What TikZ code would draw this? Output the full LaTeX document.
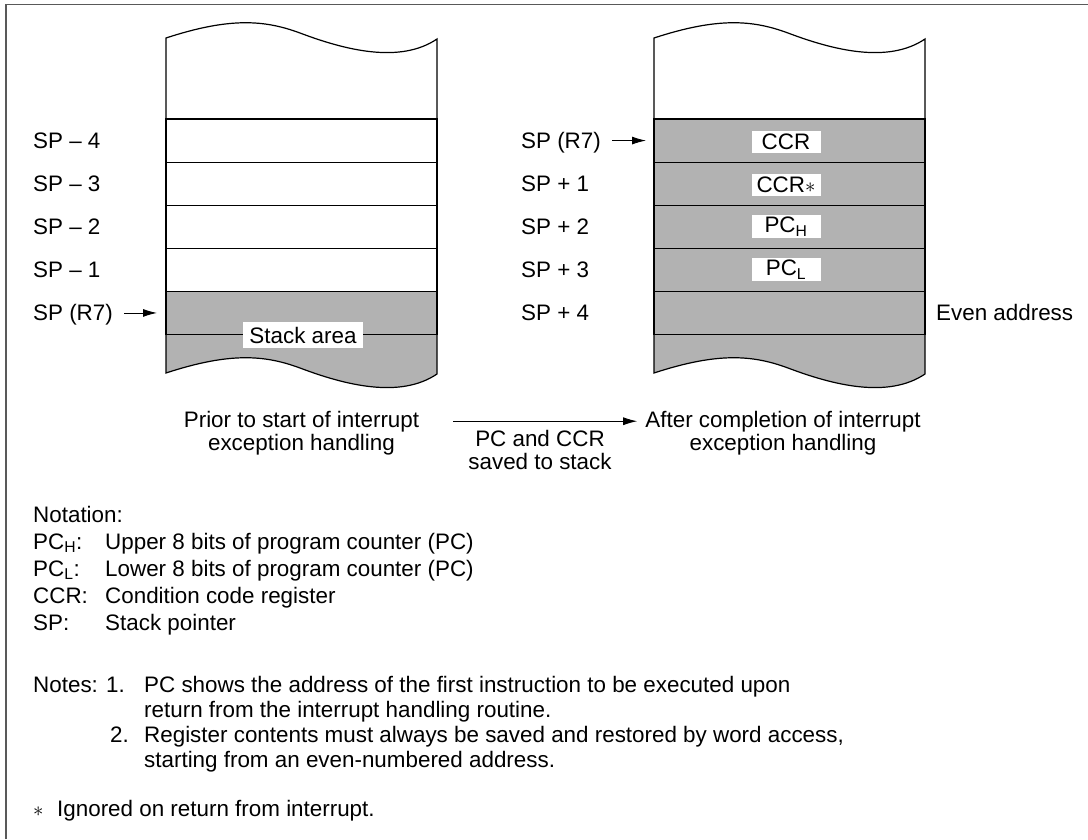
\documentclass[tikz,border=0pt]{standalone}
\usepackage{fontspec}
\setmainfont{Liberation Sans}
\usepackage{tikz}
\usetikzlibrary{arrows.meta, positioning}
\definecolor{stackgray}{gray}{0.70}
\definecolor{framegray}{gray}{0.35}

\begin{document}
\begin{tikzpicture}[
    x=1pt, y=-1pt,
    font=\fontsize{22.4}{26}\selectfont,
    cell/.style={rectangle, draw, line width=1.2pt, minimum width=271pt, minimum height=43.1pt, inner sep=0pt, outer sep=0pt},
    freecell/.style={cell, fill=white},
    usedcell/.style={cell, fill=stackgray},
    tag/.style={rectangle, fill=white, inner sep=2pt, minimum width=69pt, minimum height=22pt},
    txt/.style={anchor=base west, inner sep=0pt},
    caption/.style={anchor=base, inner sep=0pt},
    arrow/.style={-{Latex[length=14pt,width=8pt]}, line width=0.9pt}
]
\useasboundingbox (0,0) rectangle (1088,839);

% Frame
\draw[framegray, line width=1.3pt] (6,839) -- (6,4.5) -- (1088,4.5);

% Torn top and bottom of both stacks
\foreach \dx in {0,488} {
  \begin{scope}[shift={(\dx,0)}]
    \draw[line width=1.2pt, fill=white] (166,119) -- (166,38) .. controls (230,17) and (265,20) .. (300,33) .. controls (345,50) and (400,64) .. (437,39) -- (437,119);
    \draw[line width=1.2pt, fill=stackgray] (166,334.5) -- (166,373) .. controls (230,352) and (265,355) .. (300,368) .. controls (345,385) and (400,399) .. (437,374) -- (437,334.5);
  \end{scope}
}

% Stack before interrupt
\foreach \i in {1,...,4}
  \node[freecell] (l\i) at (301.5,{119+43.1*(\i-0.5)}) {};
\node[usedcell] (l5) at (301.5,{119+43.1*4.5}) {};
\node[fill=white, inner xsep=6pt, inner ysep=5pt] (area) at (303,335) {Stack area};

% Stack after interrupt
\foreach \i in {1,...,5}
  \node[usedcell] (r\i) at (789.5,{119+43.1*(\i-0.5)}) {};

% Saved registers
\node[tag] (ccr) at ([xshift=-3.5pt,yshift=-1.5pt]r1.center) {CCR};
\node[tag] (ccrx) at ([xshift=-3.5pt,yshift=-1pt]r2.center) {CCR$\ast$};
\node[tag] (pch) at ([xshift=-3.5pt]r3.center) {PC\textsubscript{H}};
\node[tag] (pcl) at ([xshift=-3.5pt]r4.center) {PC\textsubscript{L}};

% Addresses
\foreach \i/\n in {1/4,2/3,3/2,4/1}
  \node[txt] (lm\n) at ([xshift=-133pt,yshift=-8pt]l\i.west) {SP -- \n};
\node[txt] (lsp) at ([xshift=-133pt,yshift=-8pt]l5.west) {SP (R7)};
\node[txt] (rsp) at ([xshift=-133pt,yshift=-8pt]r1.west) {SP (R7)};
\foreach \i/\n in {2/1,3/2,4/3,5/4}
  \node[txt] (rp\n) at ([xshift=-133pt,yshift=-8pt]r\i.west) {SP + \n};
\node[txt] (even) at ([xshift=11pt,yshift=-8pt]r5.east) {Even address};

\draw[arrow, shorten <=11pt, shorten >=9pt] (lsp.east |- l5.west) -- (l5.west);
\draw[arrow, shorten <=11pt, shorten >=8pt] (rsp.east |- r1.west) -- (r1.west);

% Captions
\node[caption] (prior1) at (301.5,427) {Prior to start of interrupt};
\node[caption] (prior2) at (301.5,450) {exception handling};
\node[caption] (after1) at (783,427) {After completion of interrupt};
\node[caption] (after2) at (783,450) {exception handling};
\node[caption] (saved1) at (540,446) {PC and CCR};
\node[caption] (saved2) at (540,469) {saved to stack};
\draw[arrow, shorten <=34pt, shorten >=8pt] (prior1.east) -- (after1.west);

% Notation
\node[txt] (nota) at (33,522) {Notation:};
\node[txt] (npch) at (33,549) {\makebox[72pt][l]{PC\textsubscript{H}:}Upper 8 bits of program counter (PC)};
\node[txt] (npcl) at (33,576) {\makebox[72pt][l]{PC\textsubscript{L}:}Lower 8 bits of program counter (PC)};
\node[txt] (nccr) at (33,603) {\makebox[72pt][l]{CCR:}Condition code register};
\node[txt] (nsp) at (33,630) {\makebox[72pt][l]{SP:}Stack pointer};

% Notes
\node[txt] (note1) at (33,692) {\makebox[73pt][l]{Notes:}\makebox[38pt][l]{1.}PC shows the address of the first instruction to be executed upon};
\node[txt] (note1b) at (144,717) {return from the interrupt handling routine.};
\node[txt] (note2) at (110,742) {\makebox[34pt][l]{2.}Register contents must always be saved and restored by word access,};
\node[txt] (note2b) at (144,767) {starting from an even-numbered address.};
\node[txt] (ignored) at (33,816) {\makebox[24pt][l]{$\ast$}Ignored on return from interrupt.};

\end{tikzpicture}
\end{document}
